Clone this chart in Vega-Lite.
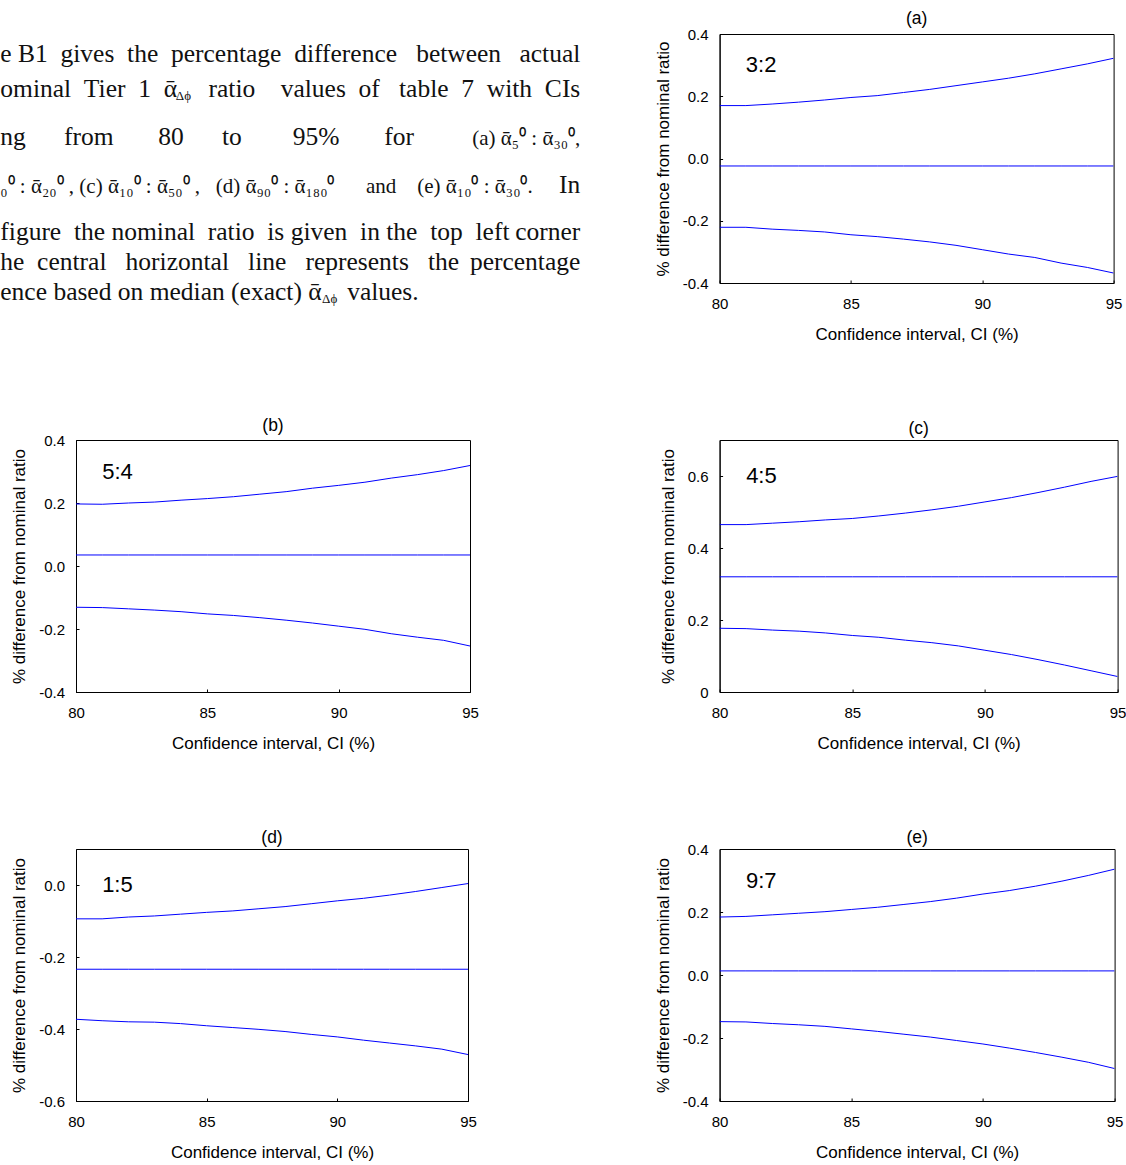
{
  "$schema": "https://vega.github.io/schema/vega-lite/v6.json",
  "background": "white",
  "padding": {"left": 0, "top": 9, "right": 4, "bottom": 2},
  "datasets": {
    "curves": [
      {"p":"a","ci":80,"upper":0.170,"median":-0.024,"lower":-0.221},
      {"p":"a","ci":81,"upper":0.170,"median":-0.024,"lower":-0.221},
      {"p":"a","ci":82,"upper":0.175,"median":-0.024,"lower":-0.227},
      {"p":"a","ci":83,"upper":0.181,"median":-0.024,"lower":-0.231},
      {"p":"a","ci":84,"upper":0.188,"median":-0.024,"lower":-0.236},
      {"p":"a","ci":85,"upper":0.196,"median":-0.024,"lower":-0.245},
      {"p":"a","ci":86,"upper":0.202,"median":-0.024,"lower":-0.251},
      {"p":"a","ci":87,"upper":0.212,"median":-0.024,"lower":-0.259},
      {"p":"a","ci":88,"upper":0.222,"median":-0.024,"lower":-0.268},
      {"p":"a","ci":89,"upper":0.234,"median":-0.024,"lower":-0.279},
      {"p":"a","ci":90,"upper":0.246,"median":-0.024,"lower":-0.293},
      {"p":"a","ci":91,"upper":0.258,"median":-0.024,"lower":-0.307},
      {"p":"a","ci":92,"upper":0.272,"median":-0.024,"lower":-0.318},
      {"p":"a","ci":93,"upper":0.288,"median":-0.024,"lower":-0.336},
      {"p":"a","ci":94,"upper":0.304,"median":-0.024,"lower":-0.350},
      {"p":"a","ci":95,"upper":0.322,"median":-0.024,"lower":-0.368},
      {"p":"b","ci":80,"upper":0.197,"median":0.035,"lower":-0.131},
      {"p":"b","ci":81,"upper":0.196,"median":0.035,"lower":-0.132},
      {"p":"b","ci":82,"upper":0.200,"median":0.035,"lower":-0.136},
      {"p":"b","ci":83,"upper":0.203,"median":0.035,"lower":-0.140},
      {"p":"b","ci":84,"upper":0.209,"median":0.035,"lower":-0.145},
      {"p":"b","ci":85,"upper":0.214,"median":0.035,"lower":-0.152},
      {"p":"b","ci":86,"upper":0.220,"median":0.035,"lower":-0.157},
      {"p":"b","ci":87,"upper":0.228,"median":0.035,"lower":-0.164},
      {"p":"b","ci":88,"upper":0.236,"median":0.035,"lower":-0.172},
      {"p":"b","ci":89,"upper":0.247,"median":0.035,"lower":-0.181},
      {"p":"b","ci":90,"upper":0.256,"median":0.035,"lower":-0.191},
      {"p":"b","ci":91,"upper":0.266,"median":0.035,"lower":-0.201},
      {"p":"b","ci":92,"upper":0.279,"median":0.035,"lower":-0.215},
      {"p":"b","ci":93,"upper":0.290,"median":0.035,"lower":-0.226},
      {"p":"b","ci":94,"upper":0.303,"median":0.035,"lower":-0.236},
      {"p":"b","ci":95,"upper":0.319,"median":0.035,"lower":-0.254},
      {"p":"c","ci":80,"upper":0.465,"median":0.320,"lower":0.177},
      {"p":"c","ci":81,"upper":0.465,"median":0.320,"lower":0.176},
      {"p":"c","ci":82,"upper":0.469,"median":0.320,"lower":0.172},
      {"p":"c","ci":83,"upper":0.473,"median":0.320,"lower":0.169},
      {"p":"c","ci":84,"upper":0.478,"median":0.320,"lower":0.164},
      {"p":"c","ci":85,"upper":0.482,"median":0.320,"lower":0.157},
      {"p":"c","ci":86,"upper":0.489,"median":0.320,"lower":0.152},
      {"p":"c","ci":87,"upper":0.497,"median":0.320,"lower":0.144},
      {"p":"c","ci":88,"upper":0.506,"median":0.320,"lower":0.137},
      {"p":"c","ci":89,"upper":0.516,"median":0.320,"lower":0.128},
      {"p":"c","ci":90,"upper":0.528,"median":0.320,"lower":0.116},
      {"p":"c","ci":91,"upper":0.540,"median":0.320,"lower":0.104},
      {"p":"c","ci":92,"upper":0.554,"median":0.320,"lower":0.090},
      {"p":"c","ci":93,"upper":0.569,"median":0.320,"lower":0.075},
      {"p":"c","ci":94,"upper":0.585,"median":0.320,"lower":0.059},
      {"p":"c","ci":95,"upper":0.599,"median":0.320,"lower":0.043},
      {"p":"d","ci":80,"upper":-0.094,"median":-0.234,"lower":-0.373},
      {"p":"d","ci":81,"upper":-0.094,"median":-0.234,"lower":-0.377},
      {"p":"d","ci":82,"upper":-0.089,"median":-0.234,"lower":-0.380},
      {"p":"d","ci":83,"upper":-0.086,"median":-0.234,"lower":-0.381},
      {"p":"d","ci":84,"upper":-0.081,"median":-0.234,"lower":-0.385},
      {"p":"d","ci":85,"upper":-0.076,"median":-0.234,"lower":-0.391},
      {"p":"d","ci":86,"upper":-0.072,"median":-0.234,"lower":-0.396},
      {"p":"d","ci":87,"upper":-0.066,"median":-0.234,"lower":-0.401},
      {"p":"d","ci":88,"upper":-0.060,"median":-0.234,"lower":-0.407},
      {"p":"d","ci":89,"upper":-0.052,"median":-0.234,"lower":-0.415},
      {"p":"d","ci":90,"upper":-0.044,"median":-0.234,"lower":-0.422},
      {"p":"d","ci":91,"upper":-0.037,"median":-0.234,"lower":-0.431},
      {"p":"d","ci":92,"upper":-0.028,"median":-0.234,"lower":-0.439},
      {"p":"d","ci":93,"upper":-0.018,"median":-0.234,"lower":-0.447},
      {"p":"d","ci":94,"upper":-0.007,"median":-0.234,"lower":-0.456},
      {"p":"d","ci":95,"upper":0.004,"median":-0.234,"lower":-0.471},
      {"p":"e","ci":80,"upper":0.184,"median":0.013,"lower":-0.148},
      {"p":"e","ci":81,"upper":0.186,"median":0.013,"lower":-0.149},
      {"p":"e","ci":82,"upper":0.191,"median":0.013,"lower":-0.154},
      {"p":"e","ci":83,"upper":0.196,"median":0.013,"lower":-0.158},
      {"p":"e","ci":84,"upper":0.201,"median":0.013,"lower":-0.163},
      {"p":"e","ci":85,"upper":0.208,"median":0.013,"lower":-0.171},
      {"p":"e","ci":86,"upper":0.215,"median":0.013,"lower":-0.179},
      {"p":"e","ci":87,"upper":0.224,"median":0.013,"lower":-0.188},
      {"p":"e","ci":88,"upper":0.233,"median":0.013,"lower":-0.197},
      {"p":"e","ci":89,"upper":0.244,"median":0.013,"lower":-0.208},
      {"p":"e","ci":90,"upper":0.257,"median":0.013,"lower":-0.219},
      {"p":"e","ci":91,"upper":0.268,"median":0.013,"lower":-0.232},
      {"p":"e","ci":92,"upper":0.282,"median":0.013,"lower":-0.246},
      {"p":"e","ci":93,"upper":0.298,"median":0.013,"lower":-0.261},
      {"p":"e","ci":94,"upper":0.316,"median":0.013,"lower":-0.277},
      {"p":"e","ci":95,"upper":0.336,"median":0.013,"lower":-0.297}
    ],
    "ratios": [
      {"p":"a","r":"3:2"},
      {"p":"b","r":"5:4"},
      {"p":"c","r":"4:5"},
      {"p":"d","r":"1:5"},
      {"p":"e","r":"9:7"}
    ],
    "para": [
      {"line":1,"k":"L","t":"e B1\u00a0\u00a0gives\u00a0\u00a0the\u00a0\u00a0percentage\u00a0\u00a0difference\u00a0\u00a0\u00a0between"},
      {"line":1,"k":"R","t":"actual"},
      {"line":2,"k":"L","t":"ominal\u00a0\u00a0Tier\u00a0\u00a01\u00a0\u00a0\u1fb1"},
      {"line":2,"k":"S","t":"\u200b\u00a0\u00a0\u00a0\u00a0\u00a0\u00a0\u00a0\u00a0\u00a0\u00a0\u00a0\u00a0\u00a0\u00a0\u00a0\u00a0\u00a0\u00a0\u00a0\u00a0\u00a0\u00a0\u00a0\u00a0\u00a0\u00a0\u00a0\u00a0\u00a0\u00a0\u00a0\u00a0\u00a0\u00a0\u00a0\u00a0\u00a0\u00a0\u00a0\u00a0\u00a0\u00a0\u00a0\u00a0\u00a0\u00a0\u00a0\u00a0\u00a0\u00a0\u00a0\u00a0\u00a0\u00a0\u0394\u03d5"},
      {"line":2,"k":"R","t":"ratio\u00a0\u00a0\u00a0\u00a0values\u00a0\u00a0of\u00a0\u00a0\u00a0table\u00a0\u00a07\u00a0\u00a0with\u00a0\u00a0CIs"},
      {"line":3,"k":"L","t":"ng\u00a0\u00a0\u00a0\u00a0\u00a0\u00a0from\u00a0\u00a0\u00a0\u00a0\u00a0\u00a0\u00a080\u00a0\u00a0\u00a0\u00a0\u00a0\u00a0to\u00a0\u00a0\u00a0\u00a0\u00a0\u00a0\u00a0\u00a095%\u00a0\u00a0\u00a0\u00a0\u00a0\u00a0\u00a0for"},
      {"line":3,"k":"MR","t":"(a) \u1fb1\u2085\u2070 : \u1fb1\u2083\u2080\u2070,"},
      {"line":4,"k":"ML","t":"\u2080\u2070 : \u1fb1\u2082\u2080\u2070 , (c) \u1fb1\u2081\u2080\u2070 : \u1fb1\u2085\u2080\u2070 ,\u00a0\u00a0 (d) \u1fb1\u2089\u2080\u2070 : \u1fb1\u2081\u2088\u2080\u2070\u00a0\u00a0\u00a0\u00a0\u00a0 and\u00a0\u00a0\u00a0 (e) \u1fb1\u2081\u2080\u2070 : \u1fb1\u2083\u2080\u2070."},
      {"line":4,"k":"R","t":"In"},
      {"line":5,"k":"L","t":"figure\u00a0 the nominal\u00a0 ratio\u00a0 is given\u00a0 in the\u00a0 top\u00a0 left"},
      {"line":5,"k":"R","t":"corner"},
      {"line":6,"k":"L","t":"he\u00a0\u00a0central\u00a0\u00a0\u00a0horizontal\u00a0\u00a0\u00a0line\u00a0\u00a0\u00a0represents\u00a0\u00a0\u00a0the"},
      {"line":6,"k":"R","t":"percentage"},
      {"line":7,"k":"L","t":"ence based on median (exact) \u1fb1\u00a0\u00a0\u00a0\u00a0values."},
      {"line":7,"k":"S","t":"\u200b\u00a0\u00a0\u00a0\u00a0\u00a0\u00a0\u00a0\u00a0\u00a0\u00a0\u00a0\u00a0\u00a0\u00a0\u00a0\u00a0\u00a0\u00a0\u00a0\u00a0\u00a0\u00a0\u00a0\u00a0\u00a0\u00a0\u00a0\u00a0\u00a0\u00a0\u00a0\u00a0\u00a0\u00a0\u00a0\u00a0\u00a0\u00a0\u00a0\u00a0\u00a0\u00a0\u00a0\u00a0\u00a0\u00a0\u00a0\u00a0\u00a0\u00a0\u00a0\u00a0\u00a0\u00a0\u00a0\u00a0\u00a0\u00a0\u00a0\u00a0\u00a0\u00a0\u00a0\u00a0\u00a0\u00a0\u00a0\u00a0\u00a0\u00a0\u00a0\u00a0\u00a0\u00a0\u00a0\u00a0\u00a0\u00a0\u00a0\u00a0\u00a0\u00a0\u00a0\u00a0\u00a0\u00a0\u00a0\u00a0\u00a0\u00a0\u00a0\u00a0\u00a0\u00a0\u00a0\u00a0\u00a0\u00a0\u00a0\u0394\u03d5"}
    ]
  },
  "columns": 2,
  "bounds": "flush",
  "align": "each",
  "spacing": {"row": 157, "column": 249.6},
  "concat": [
    {
      "width": 394, "height": 200,
      "view": {"stroke": null},
      "data": {"name": "para"},
      "encoding": {
        "y": {"field": "line", "type": "quantitative", "scale": {"domain": [1,2,3,4,5,6,7], "range": [28,63,111,159,206,236,266], "nice": false, "zero": false}, "axis": null}
      },
      "layer": [
        {"transform": [{"filter": "datum.k == 'L'"}],
         "mark": {"type": "text", "align": "left", "baseline": "alphabetic", "font": "Liberation Serif", "fontSize": 25.5, "color": "#111"},
         "encoding": {"x": {"datum": 0, "type": "quantitative", "scale": {"domain": [0,1], "range": [-75.7, 504.3]}, "axis": null}, "text": {"field": "t"}}},
        {"transform": [{"filter": "datum.k == 'R'"}],
         "mark": {"type": "text", "align": "right", "baseline": "alphabetic", "font": "Liberation Serif", "fontSize": 25.5, "color": "#111"},
         "encoding": {"x": {"datum": 1, "type": "quantitative", "scale": {"domain": [0,1], "range": [-75.7, 504.3]}, "axis": null}, "text": {"field": "t"}}},
        {"transform": [{"filter": "datum.k == 'ML'"}],
         "mark": {"type": "text", "align": "left", "baseline": "alphabetic", "font": "Liberation Serif", "fontSize": 21, "color": "#111"},
         "encoding": {"x": {"datum": 0, "type": "quantitative", "scale": {"domain": [0,1], "range": [-75.7, 504.3]}, "axis": null}, "text": {"field": "t"}}},
        {"transform": [{"filter": "datum.k == 'MR'"}],
         "mark": {"type": "text", "align": "right", "baseline": "alphabetic", "font": "Liberation Serif", "fontSize": 21, "color": "#111"},
         "encoding": {"x": {"datum": 1, "type": "quantitative", "scale": {"domain": [0,1], "range": [-75.7, 504.3]}, "axis": null}, "text": {"field": "t"}}},
        {"transform": [{"filter": "datum.k == 'S'"}],
         "mark": {"type": "text", "align": "left", "baseline": "alphabetic", "font": "Liberation Serif", "fontSize": 13, "dy": 3, "color": "#111"},
         "encoding": {"x": {"datum": 0, "type": "quantitative", "scale": {"domain": [0,1], "range": [-75.7, 504.3]}, "axis": null}, "text": {"field": "t"}}}
      ]
    },
    {
      "width": 394, "height": 249,
      "title": {"text": "(a)", "offset": 0},
      "layer": [
        {"data": {"name": "curves"},
         "transform": [{"filter": "datum.p == 'a'"}, {"fold": ["upper", "median", "lower"], "as": ["s", "v"]}],
         "mark": {"type": "line", "color": "#0000ff", "strokeWidth": 1, "clip": true},
         "encoding": {
           "x": {"field": "ci", "type": "quantitative", "scale": {"domain": [80, 95], "nice": false, "zero": false}, "axis": {"title": "Confidence interval, CI (%)", "values": [80, 85, 90, 95], "format": "d"}},
           "y": {"field": "v", "type": "quantitative", "scale": {"domain": [-0.4, 0.4], "nice": false, "zero": false}, "axis": {"title": "% difference from nominal ratio", "values": [-0.4, -0.2, 0, 0.2, 0.4], "labelExpr": "replace(format(datum.value, '.1f'), '\u2212', '-')"}},
           "detail": {"field": "s"}
         }},
        {"data": {"name": "ratios"},
         "transform": [{"filter": "datum.p == 'a'"}],
         "mark": {"type": "text", "align": "left", "baseline": "middle", "font": "Liberation Sans", "fontSize": 22, "color": "#000"},
         "encoding": {"x": {"datum": 81}, "y": {"datum": 0.3}, "text": {"field": "r"}}}
      ]
    },
    {
      "width": 394, "height": 252,
      "title": {"text": "(b)", "offset": -1.3},
      "layer": [
        {"data": {"name": "curves"},
         "transform": [{"filter": "datum.p == 'b'"}, {"fold": ["upper", "median", "lower"], "as": ["s", "v"]}],
         "mark": {"type": "line", "color": "#0000ff", "strokeWidth": 1, "clip": true},
         "encoding": {
           "x": {"field": "ci", "type": "quantitative", "scale": {"domain": [80, 95], "nice": false, "zero": false}, "axis": {"title": "Confidence interval, CI (%)", "values": [80, 85, 90, 95], "format": "d"}},
           "y": {"field": "v", "type": "quantitative", "scale": {"domain": [-0.4, 0.4], "nice": false, "zero": false}, "axis": {"title": "% difference from nominal ratio", "values": [-0.4, -0.2, 0, 0.2, 0.4], "labelExpr": "replace(format(datum.value, '.1f'), '\u2212', '-')"}},
           "detail": {"field": "s"}
         }},
        {"data": {"name": "ratios"},
         "transform": [{"filter": "datum.p == 'b'"}],
         "mark": {"type": "text", "align": "left", "baseline": "middle", "font": "Liberation Sans", "fontSize": 22, "color": "#000"},
         "encoding": {"x": {"datum": 81}, "y": {"datum": 0.3}, "text": {"field": "r"}}}
      ]
    },
    {
      "width": 398, "height": 252,
      "title": {"text": "(c)", "offset": 3},
      "layer": [
        {"data": {"name": "curves"},
         "transform": [{"filter": "datum.p == 'c'"}, {"fold": ["upper", "median", "lower"], "as": ["s", "v"]}],
         "mark": {"type": "line", "color": "#0000ff", "strokeWidth": 1, "clip": true},
         "encoding": {
           "x": {"field": "ci", "type": "quantitative", "scale": {"domain": [80, 95], "nice": false, "zero": false}, "axis": {"title": "Confidence interval, CI (%)", "values": [80, 85, 90, 95], "format": "d"}},
           "y": {"field": "v", "type": "quantitative", "scale": {"domain": [0, 0.7], "nice": false, "zero": false}, "axis": {"title": "% difference from nominal ratio", "values": [0, 0.2, 0.4, 0.6], "labelExpr": "datum.value == 0 ? '0' : format(datum.value, '.1f')"}},
           "detail": {"field": "s"}
         }},
        {"data": {"name": "ratios"},
         "transform": [{"filter": "datum.p == 'c'"}],
         "mark": {"type": "text", "align": "left", "baseline": "middle", "font": "Liberation Sans", "fontSize": 22, "color": "#000"},
         "encoding": {"x": {"datum": 81}, "y": {"datum": 0.6}, "text": {"field": "r"}}}
      ]
    },
    {
      "width": 392, "height": 252,
      "title": {"text": "(d)", "offset": 2.6},
      "layer": [
        {"data": {"name": "curves"},
         "transform": [{"filter": "datum.p == 'd'"}, {"fold": ["upper", "median", "lower"], "as": ["s", "v"]}],
         "mark": {"type": "line", "color": "#0000ff", "strokeWidth": 1, "clip": true},
         "encoding": {
           "x": {"field": "ci", "type": "quantitative", "scale": {"domain": [80, 95], "nice": false, "zero": false}, "axis": {"title": "Confidence interval, CI (%)", "values": [80, 85, 90, 95], "format": "d"}},
           "y": {"field": "v", "type": "quantitative", "scale": {"domain": [-0.6, 0.1], "nice": false, "zero": false}, "axis": {"title": "% difference from nominal ratio", "values": [-0.6, -0.4, -0.2, 0], "labelExpr": "replace(format(datum.value, '.1f'), '\u2212', '-')"}},
           "detail": {"field": "s"}
         }},
        {"data": {"name": "ratios"},
         "transform": [{"filter": "datum.p == 'd'"}],
         "mark": {"type": "text", "align": "left", "baseline": "middle", "font": "Liberation Sans", "fontSize": 22, "color": "#000"},
         "encoding": {"x": {"datum": 81}, "y": {"datum": 0.0}, "text": {"field": "r"}}}
      ]
    },
    {
      "width": 395, "height": 252,
      "title": {"text": "(e)", "offset": -4.4},
      "layer": [
        {"data": {"name": "curves"},
         "transform": [{"filter": "datum.p == 'e'"}, {"fold": ["upper", "median", "lower"], "as": ["s", "v"]}],
         "mark": {"type": "line", "color": "#0000ff", "strokeWidth": 1, "clip": true},
         "encoding": {
           "x": {"field": "ci", "type": "quantitative", "scale": {"domain": [80, 95], "nice": false, "zero": false}, "axis": {"title": "Confidence interval, CI (%)", "values": [80, 85, 90, 95], "format": "d"}},
           "y": {"field": "v", "type": "quantitative", "scale": {"domain": [-0.4, 0.4], "nice": false, "zero": false}, "axis": {"title": "% difference from nominal ratio", "values": [-0.4, -0.2, 0, 0.2, 0.4], "labelExpr": "replace(format(datum.value, '.1f'), '\u2212', '-')"}},
           "detail": {"field": "s"}
         }},
        {"data": {"name": "ratios"},
         "transform": [{"filter": "datum.p == 'e'"}],
         "mark": {"type": "text", "align": "left", "baseline": "middle", "font": "Liberation Sans", "fontSize": 22, "color": "#000"},
         "encoding": {"x": {"datum": 81}, "y": {"datum": 0.3}, "text": {"field": "r"}}}
      ]
    }
  ],
  "config": {
    "view": {"stroke": "#000", "strokeWidth": 1},
    "axis": {
      "grid": false,
      "domainColor": "#000",
      "tickColor": "#000",
      "labelColor": "#000",
      "titleColor": "#000",
      "labelFont": "Liberation Sans",
      "titleFont": "Liberation Sans",
      "labelFontSize": 15,
      "titleFontSize": 17,
      "titleFontWeight": "normal",
      "tickSize": -3,
      "labelFlush": false,
      "labelOverlap": false
    },
    "axisX": {"labelPadding": 16, "titlePadding": 15},
    "axisY": {"labelPadding": 14.5, "titlePadding": 10},
    "title": {"font": "Liberation Sans", "fontSize": 17.5, "fontWeight": "normal", "color": "#000"}
  }
}
